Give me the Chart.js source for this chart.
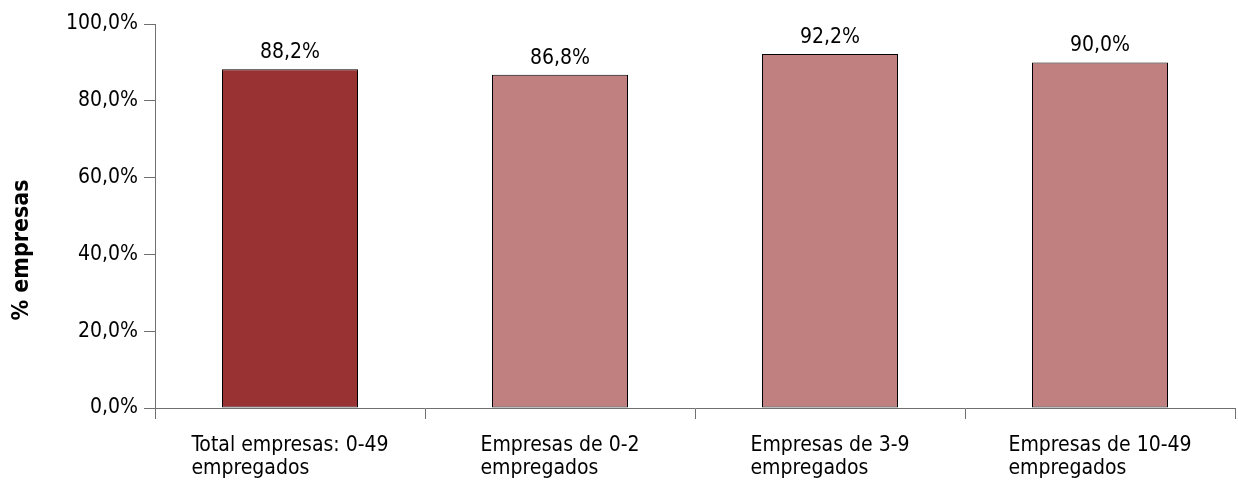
<!DOCTYPE html>
<html>
<head>
<meta charset="utf-8">
<script src="https://cdn.jsdelivr.net/npm/chart.js@4"></script>
<style>
  body { margin: 0; background: #fff; }
  #wrap { width: 1238px; height: 482px; }
</style>
</head>
<body>
<div id="wrap"><canvas id="barChart"></canvas></div>
<script>
// chart data
const categories = [
  ["Total empresas: 0-49", "empregados"],
  ["Empresas de 0-2", "empregados"],
  ["Empresas de 3-9", "empregados"],
  ["Empresas de 10-49", "empregados"]
];
const values = [88.2, 86.8, 92.2, 90.0];
const barColors = ["#993333", "#C08080", "#C08080", "#C08080"];
const yTicks = [0, 20, 40, 60, 80, 100];
const yTitle = "% empresas";

const FONT = "'DejaVu Sans Condensed', 'DejaVu Sans', sans-serif";

function pct(v) {
  return v.toFixed(1).replace(".", ",") + "%";
}

// value labels above the bars, left aligned x labels, y title
const labelsPlugin = {
  id: "labelsPlugin",
  afterDraw(chart) {
    const ctx = chart.ctx;
    const meta = chart.getDatasetMeta(0);
    ctx.save();
    ctx.fillStyle = "#000";
    ctx.font = "21px " + FONT;
    ctx.textAlign = "center";
    ctx.textBaseline = "alphabetic";
    meta.data.forEach((bar, i) => {
      ctx.fillText(pct(values[i]), bar.x, bar.y - 11);
    });

    const xScale = chart.scales.x;
    ctx.textAlign = "left";
    categories.forEach((lines, i) => {
      const cx = xScale.getPixelForValue(i);
      const w = Math.max(...lines.map(l => ctx.measureText(l).width));
      const left = cx - w / 2;
      lines.forEach((l, j) => {
        ctx.fillText(l, left, chart.chartArea.bottom + 43 + j * 23);
      });
    });

    // y axis title
    ctx.translate(22, 250);
    ctx.rotate(-Math.PI / 2);
    ctx.textAlign = "center";
    ctx.textBaseline = "middle";
    ctx.font = "bold 23px " + FONT;
    ctx.fillText(yTitle, 0, 0);
    ctx.restore();
  }
};

const ctx = document.getElementById("barChart");

new Chart(ctx, {
  type: "bar",
  data: {
    labels: categories,
    datasets: [{
      data: values,
      backgroundColor: barColors,
      borderColor: "#000",
      borderWidth: 1,
      borderSkipped: false,
      barPercentage: 136 / 270, // keeps bar edges on whole pixels
      categoryPercentage: 1
    }]
  },
  options: {
    responsive: true,
    maintainAspectRatio: false,
    animation: false,
    layout: { padding: { top: 24, right: 3, left: 0, bottom: 0 } },
    plugins: {
      legend: { display: false },
      tooltip: { enabled: false }
    },
    scales: {
      x: {
        grid: {
          display: true,
          drawOnChartArea: false,
          drawTicks: true,
          tickLength: 11,
          color: "#707070",
          offset: true
        },
        border: { color: "#707070", width: 1 },
        ticks: { display: false },
        afterFit(scale) { scale.height = 74; }
      },
      y: {
        min: 0,
        max: 100,
        afterBuildTicks(scale) {
          scale.ticks = yTicks.map(v => ({ value: v }));
        },
        grid: {
          display: true,
          drawOnChartArea: false,
          drawTicks: true,
          tickLength: 11,
          color: "#707070"
        },
        border: { color: "#707070", width: 1 },
        ticks: {
          color: "#000",
          font: { family: FONT, size: 21 },
          padding: 6,
          callback: v => pct(v)
        },
        afterFit(scale) { scale.width = 155; }
      }
    }
  },
  plugins: [labelsPlugin]
});
</script>
</body>
</html>
